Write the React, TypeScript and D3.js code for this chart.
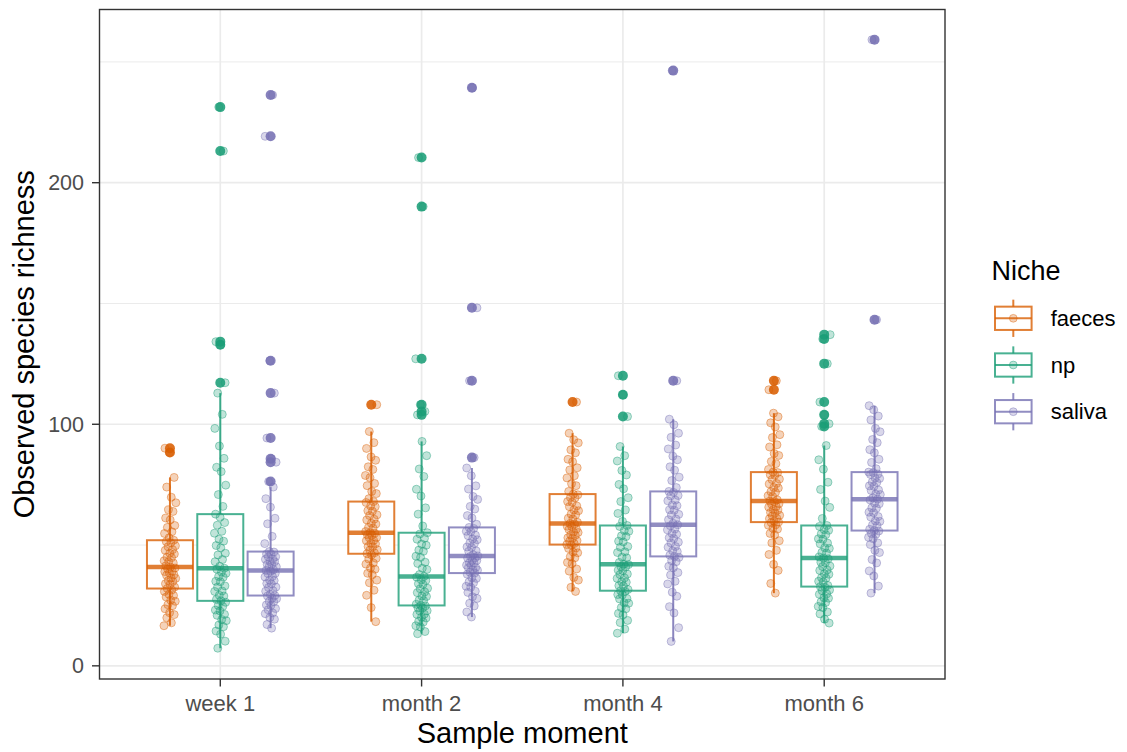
import React from "react";
import * as d3 from "d3";

// Sample moments on the x axis, niches as dodged groups
const CATEGORIES = ["week 1", "month 2", "month 4", "month 6"];
const NICHES = ["faeces", "np", "saliva"];
const NICHE_COLORS = ["#D95F02", "#1B9E77", "#7570B3"];
const Y_MAJOR = [0, 100, 200];
const Y_MINOR = [50, 150, 250];

// Observed species richness per sample
const faecesWeek1 = [
  16.6, 17.8, 19.9, 21.2, 22.0, 23.6, 24.9, 25.3, 26.7, 27.2, 28.5, 29.1, 29.6, 30.8, 31.4,
  32.0,
  32.6, 33.7, 34.0, 34.9, 35.3, 36.2, 36.4, 37.5, 37.7, 38.4, 39.0, 39.2, 40.1, 40.5,
  40.9,
  41.4, 42.6, 43.1, 43.5, 44.8, 45.0, 46.3, 46.6, 47.8, 48.1, 49.3, 49.7, 50.9, 51.4,
  52.0,
  53.0, 54.8, 55.5, 57.3, 58.1, 60.4, 61.2, 63.9, 64.6, 67.5, 69.8, 74.0, 78.0,
  88.3, 90.1,
];
const npWeek1 = [
  7.3, 10.2, 13.1, 14.4, 16.2, 16.9, 18.7, 19.2, 20.9, 21.3, 22.7, 23.1, 24.6, 25.0, 26.3,
  26.9,
  27.5, 28.9, 29.2, 30.8, 31.0, 32.6, 33.1, 34.8, 35.0, 36.7, 37.0, 38.3, 38.8, 40.0,
  40.4,
  41.2, 43.1, 44.0, 45.9, 46.6, 48.9, 49.8, 51.6, 52.4, 54.9, 55.7, 58.2, 59.3, 61.5,
  62.8,
  66.0, 70.9, 74.8, 80.4, 82.2, 85.9, 91.0, 98.3, 104.1, 112.9,
  117.2, 132.9, 134.2, 213.1, 231.3,
];
const salivaWeek1 = [
  15.6, 17.1, 19.3, 20.0, 21.6, 21.9, 23.2, 23.7, 25.0, 25.2, 26.5, 26.7, 27.8, 28.0, 28.9,
  29.1,
  29.6, 30.9, 31.1, 32.4, 32.6, 33.9, 34.1, 35.3, 35.5, 36.8, 37.0, 38.2, 38.3, 39.2,
  39.5,
  39.8, 40.9, 41.0, 41.9, 42.0, 43.1, 43.2, 44.1, 44.2, 45.1, 45.2, 46.2, 46.3, 47.1,
  47.3,
  50.6, 53.6, 58.8, 61.1, 65.7, 69.2, 74.0,
  76.3, 84.3, 85.7, 94.3, 112.9, 126.3, 219.2, 236.3,
];
const faecesMonth2 = [
  18.3, 24.1, 29.2, 31.3, 34.4, 35.5, 37.7, 38.3, 40.0, 40.5, 42.1, 42.6, 44.2, 44.5, 45.9,
  46.4,
  46.8, 47.9, 48.1, 49.3, 49.4, 50.5, 50.7, 51.8, 51.9, 53.0, 53.1, 54.1, 54.2, 54.9,
  55.1,
  55.6, 57.0, 57.3, 58.7, 59.0, 60.4, 60.7, 62.2, 62.5, 64.0, 64.2, 65.9, 66.2, 67.6,
  68.0,
  69.2, 71.3, 72.2, 74.6, 75.5, 77.9, 78.8, 81.3, 82.4, 85.1, 86.5, 90.0, 92.4, 97.0,
  108.1,
];
const npMonth2 = [
  13.3, 14.2, 16.1, 16.6, 18.1, 18.4, 19.8, 20.1, 21.3, 21.4, 22.7, 22.8, 23.9, 24.0, 24.8,
  25.0,
  25.5, 27.0, 27.2, 28.7, 28.9, 30.3, 30.6, 31.9, 32.1, 33.7, 34.0, 35.3, 35.6, 36.7,
  37.0,
  37.8, 39.9, 40.4, 42.4, 42.9, 44.9, 45.4, 47.4, 47.9, 49.9, 50.4, 52.4, 52.8, 54.6,
  55.1,
  57.9, 62.8, 65.4, 70.3, 73.1, 78.4, 81.5, 87.0, 92.9,
  103.9, 105.3, 108.1, 127.1, 190.1, 210.4,
];
const salivaMonth2 = [
  20.2, 22.3, 24.8, 25.9, 27.9, 28.6, 30.4, 30.9, 32.5, 32.9, 34.4, 34.7, 36.2, 36.5, 37.9,
  38.4,
  38.7, 39.6, 39.7, 40.6, 40.7, 41.6, 41.7, 42.6, 42.7, 43.6, 43.7, 44.6, 44.7, 45.3,
  45.5,
  46.0, 47.4, 47.6, 49.0, 49.2, 50.6, 50.8, 52.2, 52.5, 53.9, 54.1, 55.5, 55.7, 56.9,
  57.3,
  58.6, 61.2, 62.2, 64.9, 66.0, 68.9, 70.1, 73.2, 74.5, 78.7, 81.9,
  86.2, 118.0, 148.2, 239.3,
];
const faecesMonth4 = [
  30.8, 32.5, 35.5, 36.6, 39.2, 40.1, 42.3, 42.8, 44.7, 45.2, 46.8, 47.1, 48.6, 48.8, 49.9,
  50.2,
  50.6, 51.6, 51.8, 52.8, 53.0, 54.0, 54.2, 55.2, 55.4, 56.4, 56.6, 57.6, 57.8, 58.7,
  58.9,
  59.4, 60.8, 61.1, 62.5, 62.8, 64.2, 64.5, 65.9, 66.2, 67.7, 68.0, 69.5, 69.7, 70.8,
  71.1,
  72.2, 74.6, 75.4, 77.8, 78.7, 81.1, 82.0, 84.5, 85.5, 88.2, 89.4, 92.3, 93.6, 96.3,
  109.2,
];
const npMonth4 = [
  13.5, 15.2, 17.9, 18.8, 21.1, 21.7, 23.6, 24.1, 25.9, 26.1, 27.7, 27.9, 29.4, 29.5, 30.8,
  31.1,
  31.6, 33.0, 33.2, 34.6, 34.8, 36.2, 36.4, 37.8, 38.0, 39.4, 39.6, 40.9, 41.0, 41.9,
  42.1,
  42.8, 44.7, 45.0, 46.9, 47.2, 49.1, 49.4, 51.3, 51.6, 53.5, 53.8, 55.7, 56.0, 57.7,
  58.1,
  59.8, 63.1, 64.5, 68.0, 69.6, 73.3, 75.1, 79.0, 80.9, 84.8, 87.0, 90.8,
  103.2, 112.2, 120.1,
];
const salivaMonth4 = [
  10.1, 15.8, 21.9, 24.5, 28.8, 30.5, 33.9, 35.0, 37.6, 38.6, 40.6, 41.2, 43.1, 43.5, 44.9,
  45.3,
  45.8, 47.3, 47.6, 49.1, 49.4, 50.9, 51.2, 52.7, 53.0, 54.5, 54.8, 56.3, 56.6, 58.0,
  58.4,
  59.0, 60.5, 60.8, 62.4, 62.7, 64.4, 64.6, 66.3, 66.6, 68.3, 68.6, 70.3, 70.5, 71.8,
  72.2,
  73.8, 76.7, 78.1, 81.0, 82.4, 85.3, 86.8, 89.8, 91.4, 94.6, 96.3, 99.8, 102.1,
  118.0, 246.4,
];
const faecesMonth6 = [
  30.1, 34.1, 39.5, 42.0, 46.1, 47.8, 50.9, 51.8, 54.2, 54.8, 56.6, 56.9, 58.2, 58.4, 59.3,
  59.5,
  59.9, 60.9, 61.1, 62.1, 62.3, 63.3, 63.5, 64.5, 64.7, 65.7, 65.9, 66.9, 67.1, 68.0,
  68.2,
  68.7, 70.1, 70.4, 71.8, 72.1, 73.6, 73.8, 75.3, 75.5, 77.1, 77.3, 78.9, 79.1, 80.0,
  80.2,
  81.3, 83.7, 84.6, 87.1, 87.9, 90.6, 91.5, 94.5, 95.7, 98.9, 100.6, 103.1, 104.6,
  114.3, 118.0,
];
const npMonth6 = [
  17.7, 19.3, 21.5, 22.3, 24.1, 24.6, 26.2, 26.5, 28.0, 28.2, 29.6, 29.8, 31.1, 31.4, 32.5,
  32.8,
  33.3, 34.7, 35.0, 36.3, 36.5, 37.9, 38.1, 39.5, 39.7, 41.1, 41.3, 42.7, 42.9, 44.3,
  44.6,
  45.1, 46.7, 47.0, 48.6, 48.9, 50.5, 50.8, 52.4, 52.6, 54.3, 54.6, 56.1, 56.4, 57.7,
  58.1,
  61.0, 65.6, 68.2, 73.0, 76.0, 81.4, 85.3, 91.2,
  99.1, 100.2, 103.9, 109.2, 125.1, 135.3, 137.1,
];
const salivaMonth6 = [
  30.1, 33.0, 37.2, 39.3, 42.6, 44.0, 46.9, 47.8, 50.2, 50.9, 52.6, 53.2, 54.5, 54.8, 55.8,
  56.0,
  56.5, 58.0, 58.3, 59.8, 60.0, 61.6, 61.8, 63.4, 63.6, 65.2, 65.4, 67.1, 67.3, 68.7,
  69.0,
  69.5, 70.9, 71.1, 72.6, 72.8, 74.3, 74.5, 75.9, 76.1, 77.6, 77.8, 79.2, 79.4, 80.0,
  80.2,
  81.6, 84.2, 85.5, 88.2, 89.5, 92.4, 93.7, 96.9, 98.3, 101.8, 103.4, 106.0, 107.7,
  143.3, 259.2,
];

// [category][niche] lookup built from the arrays above
const SERIES: number[][][] = [
  [faecesWeek1, npWeek1, salivaWeek1],
  [faecesMonth2, npMonth2, salivaMonth2],
  [faecesMonth4, npMonth4, salivaMonth4],
  [faecesMonth6, npMonth6, salivaMonth6],
];

const W = 1127;
const H = 752;
const panel = { left: 99.5, right: 945, top: 9.5, bottom: 679 };
const FONT = "'Liberation Sans', Arial, Helvetica, sans-serif";

type BoxStats = {
  q1: number;
  median: number;
  q3: number;
  lo: number;
  hi: number;
  outliers: number[];
};

function boxStats(values: number[]): BoxStats {
  const sorted = values.slice().sort((a, b) => a - b);
  const q1 = d3.quantile(sorted, 0.25) as number;
  const median = d3.quantile(sorted, 0.5) as number;
  const q3 = d3.quantile(sorted, 0.75) as number;
  const iqr = q3 - q1;
  const upperFence = q3 + 1.5 * iqr;
  const lowerFence = q1 - 1.5 * iqr;
  const inside = sorted.filter((v) => v >= lowerFence && v <= upperFence);
  return {
    q1,
    median,
    q3,
    lo: d3.min(inside) as number,
    hi: d3.max(inside) as number,
    outliers: sorted.filter((v) => v < lowerFence || v > upperFence),
  };
}

// deterministic horizontal spread for the jittered points
function jitter(i: number, g: number): number {
  const f = (i * 0.6180339887 + g * 0.2912) % 1;
  return (f - 0.5) * 12;
}

export default function App() {
  const x = d3
    .scalePoint<string>()
    .domain(CATEGORIES)
    .range([panel.left, panel.right])
    .padding(0.6);
  const step = x.step();
  const dodge = d3
    .scaleBand<string>()
    .domain(NICHES)
    .range([-0.375 * step, 0.375 * step]);
  const boxW = 46;

  const y = d3.scaleLinear().domain([-5.45, 271.7]).range([panel.bottom, panel.top]);
  const color = d3.scaleOrdinal<string, string>().domain(NICHES).range(NICHE_COLORS);

  const groups = SERIES.flatMap((row, ci) =>
    row.map((values, ni) => {
      const cat = CATEGORIES[ci];
      const niche = NICHES[ni];
      const cx = (x(cat) as number) + (dodge(niche) as number) + dodge.bandwidth() / 2;
      return { cat, niche, cx, values, stats: boxStats(values), key: ci * 3 + ni };
    })
  );

  const legendKeyY = [318.3, 365, 411.7];
  const legendCx = 1013.3;

  return (
    <svg
      width={W}
      height={H}
      style={{ position: "absolute", left: 0, top: 0, background: "#fff" }}
      fontFamily={FONT}
    >
      <rect x={0} y={0} width={W} height={H} fill="#fff" />

      {/* grid */}
      {Y_MINOR.map((v) => (
        <line
          key={"mn" + v}
          x1={panel.left}
          x2={panel.right}
          y1={y(v)}
          y2={y(v)}
          stroke="#EBEBEB"
          strokeWidth={1}
        />
      ))}
      {Y_MAJOR.map((v) => (
        <line
          key={"mj" + v}
          x1={panel.left}
          x2={panel.right}
          y1={y(v)}
          y2={y(v)}
          stroke="#EBEBEB"
          strokeWidth={1.7}
        />
      ))}
      {CATEGORIES.map((c) => (
        <line
          key={"vx" + c}
          x1={x(c)}
          x2={x(c)}
          y1={panel.top}
          y2={panel.bottom}
          stroke="#EBEBEB"
          strokeWidth={1.7}
        />
      ))}

      {/* boxplots */}
      {groups.map((g) => {
        const col = color(g.niche);
        const s = g.stats;
        return (
          <g key={"box" + g.key}>
            <line
              x1={g.cx}
              x2={g.cx}
              y1={y(s.hi)}
              y2={y(s.q3)}
              stroke={col}
              strokeOpacity={0.85}
              strokeWidth={2}
            />
            <line
              x1={g.cx}
              x2={g.cx}
              y1={y(s.q1)}
              y2={y(s.lo)}
              stroke={col}
              strokeOpacity={0.85}
              strokeWidth={2}
            />
            <rect
              x={g.cx - boxW / 2}
              y={y(s.q3)}
              width={boxW}
              height={y(s.q1) - y(s.q3)}
              fill="#fff"
              stroke={col}
              strokeOpacity={0.8}
              strokeWidth={2}
            />
            <line
              x1={g.cx - boxW / 2}
              x2={g.cx + boxW / 2}
              y1={y(s.median)}
              y2={y(s.median)}
              stroke={col}
              strokeOpacity={0.8}
              strokeWidth={4.5}
            />
            {s.outliers.map((v, i) => (
              <circle
                key={"o" + i}
                cx={g.cx}
                cy={y(v)}
                r={5}
                fill={col}
                fillOpacity={0.88}
              />
            ))}
          </g>
        );
      })}

      {/* jittered observations */}
      {groups.map((g) => {
        const col = color(g.niche);
        return (
          <g key={"pts" + g.key}>
            {g.values.map((v, i) => (
              <circle
                key={i}
                cx={g.cx + jitter(i, g.key)}
                cy={y(v)}
                r={4}
                fill={col}
                fillOpacity={0.28}
                stroke={col}
                strokeOpacity={0.42}
                strokeWidth={1}
              />
            ))}
          </g>
        );
      })}

      {/* panel border */}
      <rect
        x={panel.left}
        y={panel.top}
        width={panel.right - panel.left}
        height={panel.bottom - panel.top}
        fill="none"
        stroke="#333333"
        strokeWidth={1.4}
      />

      {/* y axis */}
      {Y_MAJOR.map((v) => (
        <g key={"yt" + v}>
          <line x1={panel.left - 7.5} x2={panel.left} y1={y(v)} y2={y(v)} stroke="#333333" strokeWidth={1.4} />
          <text
            x={panel.left - 15.5}
            y={y(v)}
            dy="0.35em"
            textAnchor="end"
            fontSize={21.5}
            fill="#4D4D4D"
          >
            {v}
          </text>
        </g>
      ))}
      <text
        transform={`translate(33.5, ${(panel.top + panel.bottom) / 2}) rotate(-90)`}
        textAnchor="middle"
        fontSize={29}
        fill="#000"
      >
        Observed species richness
      </text>

      {/* x axis */}
      {CATEGORIES.map((c) => (
        <g key={"xt" + c}>
          <line x1={x(c)} x2={x(c)} y1={panel.bottom} y2={panel.bottom + 7.5} stroke="#333333" strokeWidth={1.4} />
          <text x={x(c)} y={710.5} textAnchor="middle" fontSize={22} fill="#4D4D4D">
            {c}
          </text>
        </g>
      ))}
      <text x={(panel.left + panel.right) / 2} y={743} textAnchor="middle" fontSize={29} fill="#000">
        Sample moment
      </text>

      {/* legend */}
      <text x={991.5} y={279.5} fontSize={27} fill="#000">
        Niche
      </text>
      {NICHES.map((n, i) => {
        const cy = legendKeyY[i];
        const col = color(n);
        const kh = 46.6;
        return (
          <g key={"lg" + n}>
            <line x1={legendCx} x2={legendCx} y1={cy - 0.4 * kh} y2={cy + 0.4 * kh} stroke={col} strokeOpacity={0.8} strokeWidth={2} />
            <rect
              x={legendCx - 18.3}
              y={cy - 0.25 * kh}
              width={36.6}
              height={0.5 * kh}
              fill="#fff"
              stroke={col}
              strokeOpacity={0.8}
              strokeWidth={2}
            />
            <line x1={legendCx - 18.3} x2={legendCx + 18.3} y1={cy} y2={cy} stroke={col} strokeOpacity={0.8} strokeWidth={2} />
            <circle cx={legendCx} cy={cy} r={3.9} fill={col} fillOpacity={0.28} stroke={col} strokeOpacity={0.42} />
            <text x={1050.7} y={cy} dy="0.35em" fontSize={22} fill="#000">
              {n}
            </text>
          </g>
        );
      })}
    </svg>
  );
}
